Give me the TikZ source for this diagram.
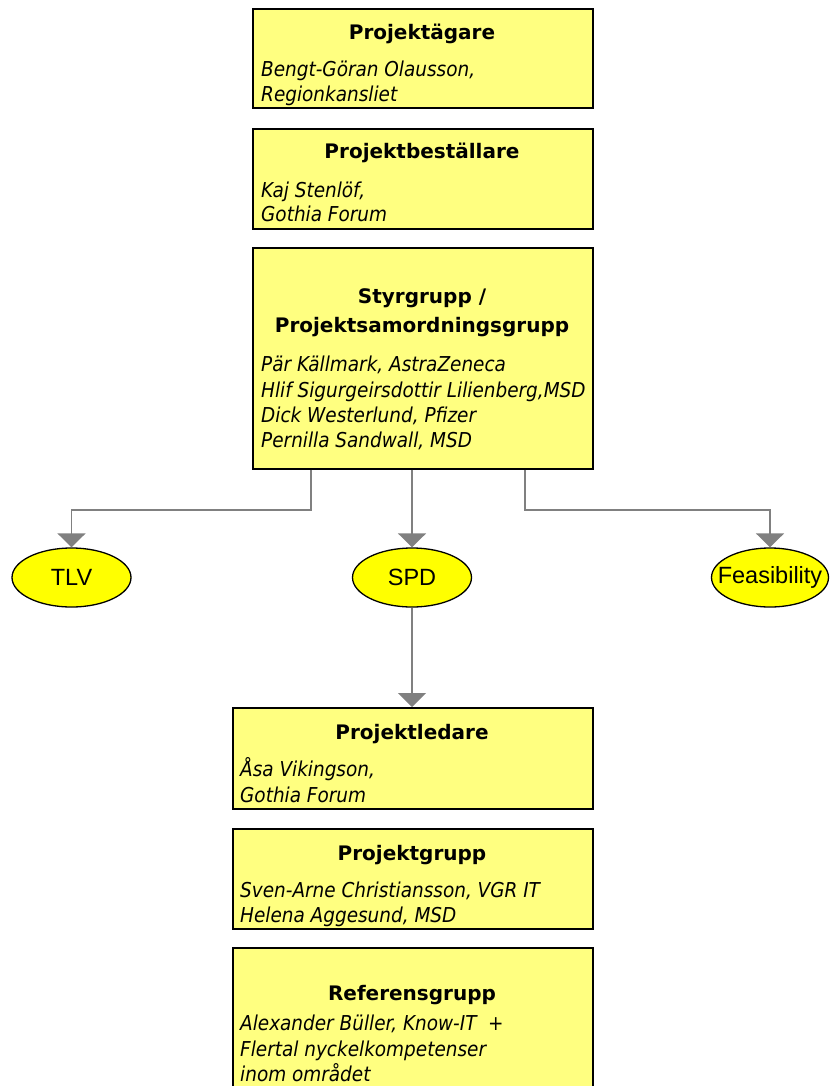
\documentclass[tikz,border=0pt]{standalone}
\usepackage{fontspec}
\usetikzlibrary{shapes.geometric,arrows.meta}
\newfontfamily\dejavu{DejaVu Sans}
\newfontfamily\dejavucond{DejaVu Sans Condensed}
\newfontfamily\arialfam{Liberation Sans}
\definecolor{boxyellow}{HTML}{FFFF80}
\definecolor{ovalyellow}{HTML}{FFFF00}
\definecolor{linegrey}{HTML}{808080}
\newcommand{\ttlfont}{\dejavu\bfseries\fontsize{20}{22}\selectfont}
\newcommand{\whofont}{\dejavucond\itshape\fontsize{20.5}{25}\selectfont}
\newcommand{\ovalfont}{\arialfam\fontsize{23.5}{26}\selectfont}
\begin{document}
\begin{tikzpicture}[x=1pt,y=-1pt,
  box/.style={draw=black, line width=1.9pt, fill=boxyellow, inner sep=0pt, anchor=north west},
  ttl/.style={font=\ttlfont, inner sep=0pt, anchor=base},
  who/.style={font=\whofont, inner sep=0pt, anchor=base west},
  oval/.style={ellipse, draw=black, fill=ovalyellow, line width=1.3pt, minimum width=119pt, minimum height=59pt, inner sep=0pt, font=\ovalfont},
  conn/.style={draw=linegrey, line width=1.7pt, -{Triangle[width=28pt,length=14pt]}}]
\useasboundingbox (0,0) rectangle (830,1086);
\clip (0,0) rectangle (830,1086);

% Projektägare
\node[box, minimum width=340pt, minimum height=99pt] (agare) at (252,8) {};
\node[ttl] (agareT) at (422,39.5) {Projektägare};
\node[who] (agareA) at (261,77) {Bengt-Göran Olausson,};
\node[who] (agareB) at (261,102) {Regionkansliet};

% Projektbeställare
\node[box, minimum width=340pt, minimum height=100pt] (best) at (252,128) {};
\node[ttl] (bestT) at (422,159) {Projektbeställare};
\node[who] (bestA) at (261,197) {Kaj Stenlöf,};
\node[who] (bestB) at (261,222) {Gothia Forum};

% Styrgrupp
\node[box, minimum width=340pt, minimum height=221pt] (styr) at (252,247) {};
\node[ttl] (styrT1) at (422,303) {Styrgrupp /};
\node[ttl] (styrT2) at (422,332) {Projektsamordningsgrupp};
\node[who] (styrA) at (261,371) {Pär Källmark, AstraZeneca};
\node[who] (styrB) at (261,397) {Hlif Sigurgeirsdottir Lilienberg,MSD};
\node[who] (styrC) at (261,422) {Dick Westerlund, Pfizer};
\node[who] (styrD) at (261,447) {Pernilla Sandwall, MSD};

% Delprojekt (the label is boxed at zero width so the oval keeps its size)
\node[oval] (tlv) at (71.5,577.5) {\makebox[0pt]{TLV}};
\node[oval] (spd) at (412,577.5) {\makebox[0pt]{SPD}};
\node[oval, minimum width=117pt] (feas) at (770,577.5) {\makebox[0pt]{Feasibility}};

% Projektledare
\node[box, minimum width=360pt, minimum height=101pt] (led) at (232,707) {};
\node[ttl] (ledT) at (412,739) {Projektledare};
\node[who] (ledA) at (240,776) {Åsa Vikingson,};
\node[who] (ledB) at (240,802) {Gothia Forum};

% Projektgrupp
\node[box, minimum width=360pt, minimum height=100pt] (grp) at (232,828) {};
\node[ttl] (grpT) at (412,860) {Projektgrupp};
\node[who] (grpA) at (240,897) {Sven-Arne Christiansson, VGR IT};
\node[who] (grpB) at (240,922) {Helena Aggesund, MSD};

% Referensgrupp
\node[box, minimum width=360pt, minimum height=170pt] (ref) at (232,947) {};
\node[ttl] (refT) at (412,1000) {Referensgrupp};
\node[who] (refA) at (240,1030) {Alexander Büller, Know-IT~~+};
\node[who] (refB) at (240,1056) {Flertal nyckelkompetenser};
\node[who] (refC) at (240,1081) {inom området};

% Connectors
\draw[conn] ([xshift=-112pt]styr.south) -- ++(0,40) -| (tlv.north);
\draw[conn] (styr.south -| spd.north) -- (spd.north);
\draw[conn] ([xshift=102pt]styr.south) -- ++(0,40) -| (feas.north);
\draw[conn] (spd.south) -- (spd.south |- led.north);
\end{tikzpicture}
\end{document}
